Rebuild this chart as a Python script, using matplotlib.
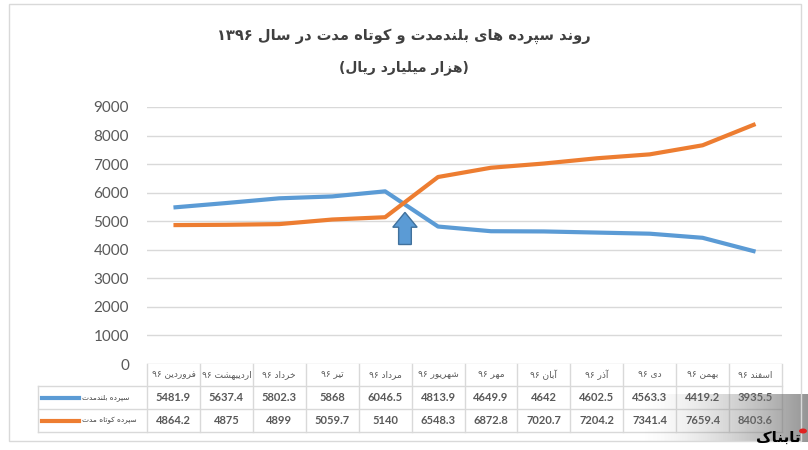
import re
import numpy as np
import matplotlib
matplotlib.use("Agg")
import matplotlib.pyplot as plt
from matplotlib import transforms
from matplotlib.patches import Rectangle, FancyArrow

# ==================================================
# data
# ==================================================
months = ["فروردین ۹۶", "اردیبهشت ۹۶", "خرداد ۹۶", "تیر ۹۶", "مرداد ۹۶", "شهریور ۹۶",
          "مهر ۹۶", "آبان ۹۶", "آذر ۹۶", "دی ۹۶", "بهمن ۹۶", "اسفند ۹۶"]
long_term = [5481.9, 5637.4, 5802.3, 5868, 6046.5, 4813.9,
             4649.9, 4642, 4602.5, 4563.3, 4419.2, 3935.5]
short_term = [4864.2, 4875, 4899, 5059.7, 5140, 6548.3,
              6872.8, 7020.7, 7204.2, 7341.4, 7659.4, 8403.6]
series_names = ["سپرده بلندمدت", "سپرده کوتاه مدت"]
title = "روند سپرده های بلندمدت و کوتاه مدت در سال ۱۳۹۶"
subtitle = "(هزار میلیارد ریال)"
y_ticks = [0, 1000, 2000, 3000, 4000, 5000, 6000, 7000, 8000, 9000]

BLUE = "#5B9BD5"
ORANGE = "#ED7D31"
GRID = "#D9D9D9"
TXT = "#595959"

# ==================================================
# tiny Persian shaper + bidi (matplotlib has no text shaping)
# ==================================================
FORMS = {
    "ا": ("\uFE8D", "\uFE8E"), "آ": ("\uFE81", "\uFE82"),
    "ب": ("\uFE8F", "\uFE90", "\uFE91", "\uFE92"), "پ": ("\uFB56", "\uFB57", "\uFB58", "\uFB59"),
    "ت": ("\uFE95", "\uFE96", "\uFE97", "\uFE98"), "خ": ("\uFEA5", "\uFEA6", "\uFEA7", "\uFEA8"),
    "د": ("\uFEA9", "\uFEAA"), "ذ": ("\uFEAB", "\uFEAC"), "ر": ("\uFEAD", "\uFEAE"),
    "ز": ("\uFEAF", "\uFEB0"), "س": ("\uFEB1", "\uFEB2", "\uFEB3", "\uFEB4"),
    "ش": ("\uFEB5", "\uFEB6", "\uFEB7", "\uFEB8"), "ف": ("\uFED1", "\uFED2", "\uFED3", "\uFED4"),
    "ک": ("\uFB8E", "\uFB8F", "\uFB90", "\uFB91"), "ل": ("\uFEDD", "\uFEDE", "\uFEDF", "\uFEE0"),
    "م": ("\uFEE1", "\uFEE2", "\uFEE3", "\uFEE4"), "ن": ("\uFEE5", "\uFEE6", "\uFEE7", "\uFEE8"),
    "ه": ("\uFEE9", "\uFEEA", "\uFEEB", "\uFEEC"), "و": ("\uFEED", "\uFEEE"),
    "ی": ("\uFBFC", "\uFBFD", "\uFBFE", "\uFBFF"),
}
DIGITS = "0123456789۰۱۲۳۴۵۶۷۸۹."
MIRROR = str.maketrans("()", ")(")


def shape(w):
    out = []
    for i, c in enumerate(w):
        if c not in FORMS:
            out.append(c)
            continue
        prev = w[i - 1] if i > 0 else None
        nxt = w[i + 1] if i + 1 < len(w) else None
        jp = prev in FORMS and len(FORMS[prev]) == 4
        jn = nxt in FORMS and len(FORMS[c]) == 4
        f = FORMS[c]
        out.append(f[3] if (jp and jn) else f[1] if jp else f[2] if jn else f[0])
    return "".join(out)


def fa(text):
    runs = re.findall(r"[0-9۰-۹.]+|[^0-9۰-۹.]+", shape(text))
    return "".join(r if r[0] in DIGITS else r[::-1].translate(MIRROR) for r in reversed(runs))


# ==================================================
# figure
# ==================================================
W, H = 808, 450
fig = plt.figure(figsize=(W / 100, H / 100), dpi=100)
fig.patch.set_facecolor("white")

def fx(px):
    return px / W

def fy(py):
    return 1 - py / H

ax = fig.add_axes([fx(147), fy(364), fx(782) - fx(147), fy(107) - fy(364)])
x = np.arange(len(months))

ax.plot(x, long_term, color=BLUE, lw=3, solid_capstyle="butt", zorder=3)
ax.plot(x, short_term, color=ORANGE, lw=3, solid_capstyle="butt", zorder=3)

ax.set_xlim(-0.5, len(months) - 0.5)
ax.set_ylim(0, 9000)
ax.set_yticks(y_ticks)
ax.set_yticklabels([str(v) for v in y_ticks], fontsize=11, color=TXT, family=["Lato", "DejaVu Sans"])
ax.set_xticks([])
ax.tick_params(axis="y", length=0, pad=13)
ax.grid(axis="y", color=GRID, lw=1)
ax.set_axisbelow(True)
for s in ax.spines.values():
    s.set_visible(False)

# arrow pointing at the crossing
ax.add_patch(FancyArrow(4.375, 4185, 0, 1125, width=0.24, head_width=0.46, head_length=520,
                        length_includes_head=True, facecolor=BLUE, edgecolor="#41719C", lw=1,
                        zorder=4))

# ==================================================
# data table under the chart
# ==================================================
col_w = (782 - 147) / len(months)

def dx(px):
    return (px - 147) / col_w - 0.5

tr = transforms.blended_transform_factory(ax.transData, fig.transFigure)
rows = [364, 386, 409, 432]
left_leg = dx(38)

for yy in rows[1:]:
    ax.plot([left_leg, len(months) - 0.5], [fy(yy)] * 2, color=GRID, lw=1, transform=tr, clip_on=False)
for k in range(len(months) + 1):
    ax.plot([k - 0.5] * 2, [fy(364), fy(432)], color=GRID, lw=1, transform=tr, clip_on=False)
ax.plot([left_leg] * 2, [fy(386), fy(432)], color=GRID, lw=1, transform=tr, clip_on=False)

for i, m in enumerate(months):
    ax.text(i, fy(375), fa(m), ha="center", va="center", fontsize=6.5, color=TXT,
            transform=tr, family="DejaVu Sans")
    ax.text(i, fy(397.5), f"{long_term[i]:g}", ha="center", va="center", fontsize=8,
            color=TXT, transform=tr, family=["Lato", "DejaVu Sans"], fontweight="bold")
    ax.text(i, fy(420.5), f"{short_term[i]:g}", ha="center", va="center", fontsize=8,
            color=TXT, transform=tr, family=["Lato", "DejaVu Sans"], fontweight="bold")

for name, color, yy in zip(series_names, [BLUE, ORANGE], [397.5, 420.5]):
    ax.plot([dx(42), dx(79)], [fy(yy)] * 2, color=color, lw=3, transform=tr, clip_on=False)
    ax.text(dx(82), fy(yy), fa(name), ha="left", va="center", fontsize=5.3, color="#404040",
            transform=tr, family="DejaVu Sans")

# ==================================================
# titles and frame
# ==================================================
fig.text(0.5, fy(36), fa(title), ha="center", va="center", fontsize=10.5, fontweight="bold",
         color="#404040", family="DejaVu Sans")
fig.text(0.5, fy(68), fa(subtitle), ha="center", va="center", fontsize=10, fontweight="bold",
         color="#404040", family="DejaVu Sans")

fig.patches.append(Rectangle((fx(9), fy(441)), fx(801) - fx(9), fy(4) - fy(441),
                             transform=fig.transFigure, fill=False, edgecolor=GRID, lw=1))

# watermark of the source (gray band + logo text)
wax = fig.add_axes([fx(640), fy(442), fx(808) - fx(640), fy(394) - fy(442)])
grad = np.linspace(0, 1, 200)[None, :] ** 1.5
rgba = np.zeros((1, 200, 4))
rgba[..., :3] = 0.45
rgba[..., 3] = grad * 0.75
wax.imshow(rgba, aspect="auto", extent=[0, 1, 0, 1])
wax.axis("off")
fig.text(fx(778), fy(437), fa("تابناک"), ha="center", va="center", fontsize=11,
         fontweight="bold", color="black", family="DejaVu Sans")
fig.patches.append(plt.Circle((fx(803), fy(431)), 0.004, transform=fig.transFigure,
                              color="#E02020"))

fig.savefig("out.png", dpi=100)
